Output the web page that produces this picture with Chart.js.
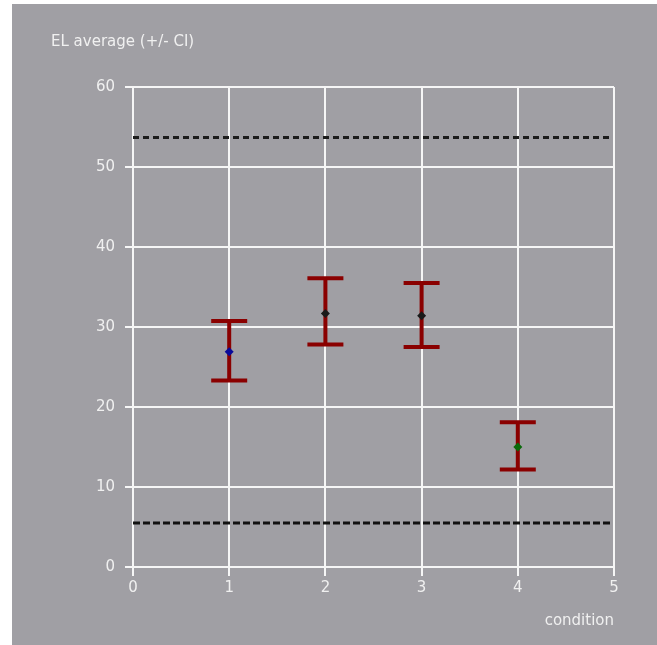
<!DOCTYPE html>
<html>
<head>
<meta charset="utf-8">
<script src="https://cdn.jsdelivr.net/npm/chart.js@4.4.1/dist/chart.umd.min.js"></script>
<style>
  html, body { margin: 0; padding: 0; background: #fff; }
  canvas { display: block; }
</style>
</head>
<body>
<canvas id="elChart" width="657" height="645"></canvas>
<script>
// values
const conditions = [1, 2, 3, 4];
const means = [26.9, 31.7, 31.4, 15.0];
const ciLow = [23.3, 27.8, 27.5, 12.2];
const ciHigh = [30.75, 36.1, 35.5, 18.1];
const pointColors = ["#0a0a9a", "#1a1a1a", "#1a1a1a", "#0a6a0a"];
const upperLimit = 53.7;
const lowerLimit = 5.5;
const limitEnd = 4.97;
const xTicks = [0, 1, 2, 3, 4, 5];
const yTicks = [0, 10, 20, 30, 40, 50, 60];

const FONT = "DejaVu Sans";
const TEXT = "#f0f0f0";
const GRID = "#f6f6f6";

const panelBg = {
  id: "panelBg",
  beforeDraw(chart) {
    const ctx = chart.ctx;
    ctx.save();
    ctx.fillStyle = "#ffffff";
    ctx.fillRect(0, 0, chart.width, chart.height);
    ctx.fillStyle = "#a09fa4";
    ctx.fillRect(12, 4, chart.width - 12, chart.height - 4);
    ctx.restore();
  },
  afterDraw(chart) {
    const ctx = chart.ctx;
    ctx.save();
    ctx.fillStyle = TEXT;
    ctx.font = "15px '" + FONT + "'";
    ctx.textBaseline = "alphabetic";
    ctx.textAlign = "left";
    ctx.fillText("EL average (+/- CI)", 51, 46);
    ctx.textAlign = "right";
    ctx.fillText("condition", chart.chartArea.right, 625);
    ctx.restore();
  }
};

// whiskers drawn through the chart's own scales
const errorBars = {
  id: "errorBars",
  beforeDatasetsDraw(chart) {
    const ctx = chart.ctx;
    const xs = chart.scales.x, ys = chart.scales.y;
    ctx.save();
    ctx.strokeStyle = "#8a0000";
    ctx.lineWidth = 4;
    ctx.lineCap = "butt";
    conditions.forEach((c, i) => {
      const x = xs.getPixelForValue(c);
      const yl = ys.getPixelForValue(ciLow[i]);
      const yh = ys.getPixelForValue(ciHigh[i]);
      ctx.beginPath();
      ctx.moveTo(x, yl);
      ctx.lineTo(x, yh);
      ctx.moveTo(x - 18, yl);
      ctx.lineTo(x + 18, yl);
      ctx.moveTo(x - 18, yh);
      ctx.lineTo(x + 18, yh);
      ctx.stroke();
    });
    ctx.restore();
  }
};

new Chart(document.getElementById("elChart"), {
  type: "scatter",
  data: {
    datasets: [
      {
        label: "mean",
        data: conditions.map((c, i) => ({ x: c, y: means[i] })),
        pointStyle: "rectRot",
        pointRadius: 4.5,
        pointBackgroundColor: pointColors,
        pointBorderColor: pointColors,
        pointBorderWidth: 0,
      },
      {
        type: "line",
        label: "upper",
        data: [{ x: 0, y: upperLimit }, { x: limitEnd, y: upperLimit }],
        borderColor: "#1c1c1c",
        borderWidth: 3,
        borderDash: [6, 4],
        pointRadius: 0,
        fill: false,
      },
      {
        type: "line",
        label: "lower",
        data: [{ x: 0, y: lowerLimit }, { x: limitEnd, y: lowerLimit }],
        borderColor: "#111111",
        borderWidth: 3,
        borderDash: [7, 3],
        pointRadius: 0,
        fill: false,
      },
    ],
  },
  plugins: [panelBg, errorBars],
  options: {
    responsive: false,
    animation: false,
    layout: { padding: { top: 87, right: 43, left: 0, bottom: 0 } },
    plugins: {
      legend: { display: false },
      tooltip: { enabled: false },
      title: { display: false },
    },
    scales: {
      x: {
        type: "linear",
        min: 0,
        max: 5,
        afterBuildTicks: (s) => { s.ticks = xTicks.map(v => ({ value: v })); },
        afterFit: (s) => { s.height = 78; },
        grid: { color: GRID, lineWidth: 2, tickLength: 9, tickColor: GRID, tickWidth: 2 },
        border: { color: GRID, width: 2 },
        ticks: { color: TEXT, padding: 3, font: { family: FONT, size: 15 }, maxRotation: 0 },
      },
      y: {
        type: "linear",
        min: 0,
        max: 60,
        afterBuildTicks: (s) => { s.ticks = yTicks.map(v => ({ value: v })); },
        afterFit: (s) => { s.width = 133; },
        grid: { color: GRID, lineWidth: 2, tickLength: 8, tickColor: GRID, tickWidth: 2 },
        border: { color: GRID, width: 2 },
        ticks: { color: TEXT, padding: 10, font: { family: FONT, size: 15 } },
      },
    },
  },
});
</script>
</body>
</html>
